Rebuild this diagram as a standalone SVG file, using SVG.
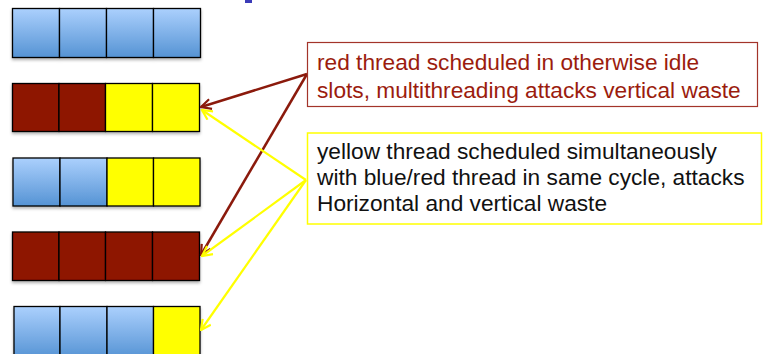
<svg xmlns="http://www.w3.org/2000/svg" width="765" height="354" viewBox="0 0 765 354">
<defs>
<linearGradient id="blue" x1="0" y1="0" x2="0" y2="1">
<stop offset="0" stop-color="#abd0fd"/>
<stop offset="1" stop-color="#5593d4"/>
</linearGradient>
<filter id="sh" x="-10%" y="-10%" width="130%" height="140%">
<feDropShadow dx="0" dy="2" stdDeviation="1.5" flood-color="#000" flood-opacity="0.3"/>
</filter>
<marker id="ar" viewBox="0 0 12 12" refX="11" refY="6" markerWidth="12" markerHeight="12" markerUnits="userSpaceOnUse" orient="auto">
<path d="M1,1 L11,6 L1,11" fill="none" stroke="#8b1a0c" stroke-width="2.2"/>
</marker>
<marker id="ay" viewBox="0 0 12 12" refX="11" refY="6" markerWidth="12" markerHeight="12" markerUnits="userSpaceOnUse" orient="auto">
<path d="M1,1 L11,6 L1,11" fill="none" stroke="#ffff00" stroke-width="2.2"/>
</marker>
</defs>
<style>
.b{fill:url(#blue);stroke:#000;stroke-width:1.3}
.r{fill:#8e1500;stroke:#000;stroke-width:1.3}
.y{fill:#ffff00;stroke:#000;stroke-width:1.3}
.row{filter:url(#sh)}
.t{font-family:"Liberation Sans",Arial,sans-serif;font-size:22.7px}
</style>
<rect x="245" y="0" width="7" height="3" fill="#3b3bb8"/>
<g id="row1" class="row">
<rect class="b" x="12.5" y="8.5" width="47" height="49"/>
<rect class="b" x="59.5" y="8.5" width="47" height="49"/>
<rect class="b" x="106.5" y="8.5" width="47" height="49"/>
<rect class="b" x="153.5" y="8.5" width="47" height="49"/>
</g>
<g id="row2" class="row">
<rect class="r" x="12.5" y="83.5" width="46.5" height="48"/>
<rect class="r" x="59" y="83.5" width="46.5" height="48"/>
<rect class="y" x="105.5" y="83.5" width="47" height="48"/>
<rect class="y" x="152.5" y="83.5" width="47" height="48"/>
</g>
<g id="row3" class="row">
<rect class="b" x="13" y="158" width="47" height="48"/>
<rect class="b" x="60" y="158" width="47" height="48"/>
<rect class="y" x="107" y="158" width="46.5" height="48"/>
<rect class="y" x="153.5" y="158" width="46.5" height="48"/>
</g>
<g id="row4" class="row">
<rect class="r" x="12.5" y="232" width="46.5" height="48.5"/>
<rect class="r" x="59" y="232" width="46.5" height="48.5"/>
<rect class="r" x="105.5" y="232" width="47" height="48.5"/>
<rect class="r" x="152.5" y="232" width="47" height="48.5"/>
</g>
<g id="row5" class="row">
<rect class="b" x="14" y="306.5" width="46" height="52"/>
<rect class="b" x="60" y="306.5" width="47" height="52"/>
<rect class="b" x="107" y="306.5" width="46.5" height="52"/>
<rect class="y" x="153.5" y="306.5" width="46.5" height="52"/>
</g>
<g id="connectors" fill="none">
<line x1="307" y1="74" x2="201" y2="107" stroke="#8b1a0c" stroke-width="2.5" marker-end="url(#ar)"/>
<line x1="307" y1="74" x2="201" y2="255" stroke="#8b1a0c" stroke-width="2.5" marker-end="url(#ar)"/>
<line x1="306" y1="180" x2="202" y2="110" stroke="#ffff00" stroke-width="2.2" marker-end="url(#ay)"/>
<line x1="306" y1="180" x2="202" y2="256" stroke="#ffff00" stroke-width="2.2" marker-end="url(#ay)"/>
<line x1="306" y1="180" x2="201" y2="330" stroke="#ffff00" stroke-width="2.2" marker-end="url(#ay)"/>
</g>
<g id="redNote">
<rect x="307.5" y="42.5" width="450" height="64" fill="#fff" stroke="#a3342a" stroke-width="1.2"/>
<text class="t" fill="#9b1c0e" x="317" y="70">red thread scheduled in otherwise idle</text>
<text class="t" fill="#9b1c0e" x="317" y="98">slots, multithreading attacks vertical waste</text>
</g>
<g id="yellowNote">
<rect x="307.5" y="133" width="454" height="91" fill="#fff" stroke="#ffff00" stroke-width="1.5"/>
<text class="t" fill="#111" x="317" y="159">yellow thread scheduled simultaneously</text>
<text class="t" fill="#111" x="317" y="185">with blue/red thread in same cycle, attacks</text>
<text class="t" fill="#111" x="317" y="211">Horizontal and vertical waste</text>
</g>
</svg>
